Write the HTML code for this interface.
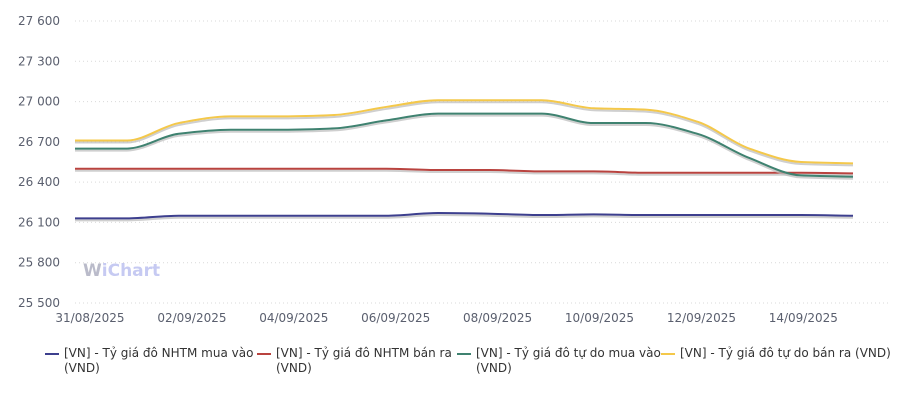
<!DOCTYPE html>
<html><head><meta charset="utf-8"><style>
body{margin:0;background:#fff;width:900px;height:407px;overflow:hidden;font-family:"DejaVu Sans","Liberation Sans",sans-serif}
svg text{font-family:"DejaVu Sans","Liberation Sans",sans-serif}
.legend{position:absolute;top:346px;left:0;width:900px;font-size:12px;color:#333}
.li{position:absolute;line-height:15px}
.sw{position:absolute;left:0;top:7px;width:14px;height:2px}
.lt{padding-left:19px}
</style></head><body>
<svg id="chart" width="900" height="407" style="position:absolute;left:0;top:0">
<g id="grid"></g><g id="ylab"></g><g id="xlab"></g>
<text x="83" y="276" font-size="17" font-weight="bold" fill="#a9abbd" opacity="0.8">W<tspan fill="#b8bdf0">iChart</tspan></text>
<g id="series"></g>
</svg>
<div class="legend">
<div class="li" style="left:45px"><span class="sw" style="background:#3d3f8e"></span><div class="lt">[VN] - Tỷ giá đô NHTM mua vào<br>(VND)</div></div>
<div class="li" style="left:257px"><span class="sw" style="background:#b9433f"></span><div class="lt">[VN] - Tỷ giá đô NHTM bán ra<br>(VND)</div></div>
<div class="li" style="left:457px"><span class="sw" style="background:#3f8270"></span><div class="lt">[VN] - Tỷ giá đô tự do mua vào<br>(VND)</div></div>
<div class="li" style="left:661px"><span class="sw" style="background:#f4c84a"></span><div class="lt">[VN] - Tỷ giá đô tự do bán ra (VND)</div></div>
</div>
<script>
const categories=["31/08","01/09","02/09","03/09","04/09","05/09","06/09","07/09","08/09","09/09","10/09","11/09","12/09","13/09","14/09","15/09"];
const nhtmBuy=[26130,26130,26150,26150,26150,26150,26150,26170,26165,26155,26160,26155,26155,26155,26155,26150];
const nhtmSell=[26500,26500,26500,26500,26500,26500,26500,26490,26490,26480,26480,26470,26470,26470,26470,26465];
const freeBuy=[26650,26650,26760,26790,26790,26800,26860,26910,26910,26910,26840,26840,26760,26580,26450,26440];
const freeSell=[26710,26710,26840,26890,26890,26900,26960,27010,27010,27010,26950,26940,26850,26650,26550,26540];
const yTicks=[25500,25800,26100,26400,26700,27000,27300,27600];
const xTickLabels=["31/08/2025","02/09/2025","04/09/2025","06/09/2025","08/09/2025","10/09/2025","12/09/2025","14/09/2025"];
const NS="http://www.w3.org/2000/svg";
const y=v=>303-(v-25500)*(282/2100);
const x=i=>75+i*(778/(categories.length-1));
const xt=k=>90+k*101.9;
function el(t,a,p){const e=document.createElementNS(NS,t);for(const k in a)e.setAttribute(k,a[k]);p.appendChild(e);return e;}
const grid=document.getElementById('grid'),yl=document.getElementById('ylab'),xl=document.getElementById('xlab');
yTicks.forEach(v=>{
const g=el('line',{x1:75,x2:890,y1:y(v),y2:y(v),stroke:'#d9d9d9','stroke-dasharray':'1 3'},grid);


const t=el('text',{x:60,y:y(v)+4,'text-anchor':'end','font-size':12,fill:'#5a5f6e'},yl);


t.textContent=v.toLocaleString('en-US').replace(',',' ');
});
xTickLabels.forEach((s,k)=>{
const t=el('text',{x:xt(k),y:322,'text-anchor':'middle','font-size':12,fill:'#5a5f6e'},xl);


t.textContent=s;
});
function monotone(pts){
const n=pts.length,d=[],m=[];
for(let i=0;i<n-1;i++)d.push((pts[i+1][1]-pts[i][1])/(pts[i+1][0]-pts[i][0]));
m[0]=d[0];m[n-1]=d[n-2];
for(let i=1;i<n-1;i++)m[i]=(d[i-1]*d[i]<=0)?0:(2/(1/d[i-1]+1/d[i]));
let p='M'+pts[0][0]+','+pts[0][1];
for(let i=0;i<n-1;i++){const h=(pts[i+1][0]-pts[i][0])/3;
p+=' C'+(pts[i][0]+h)+','+(pts[i][1]+m[i]*h)+' '+(pts[i+1][0]-h)+','+(pts[i+1][1]-m[i+1]*h)+' '+pts[i+1][0]+','+pts[i+1][1];}
return p;}
const sg=document.getElementById('series');
[[nhtmBuy,'#3d3f8e','line-nhtm-buy'],[nhtmSell,'#b9433f','line-nhtm-sell'],[freeBuy,'#3f8270','line-free-buy'],[freeSell,'#f4c84a','line-free-sell']].forEach(([arr,c,n])=>{
const d=monotone(arr.map((v,i)=>[x(i),y(v)]));
const sh=el('path',{d:d,fill:'none',stroke:'#bbb','stroke-width':2,transform:'translate(0,2)',opacity:0.7},sg);


const p=el('path',{d:d,fill:'none',stroke:c,'stroke-width':2},sg);


});
</script>
</body></html>
